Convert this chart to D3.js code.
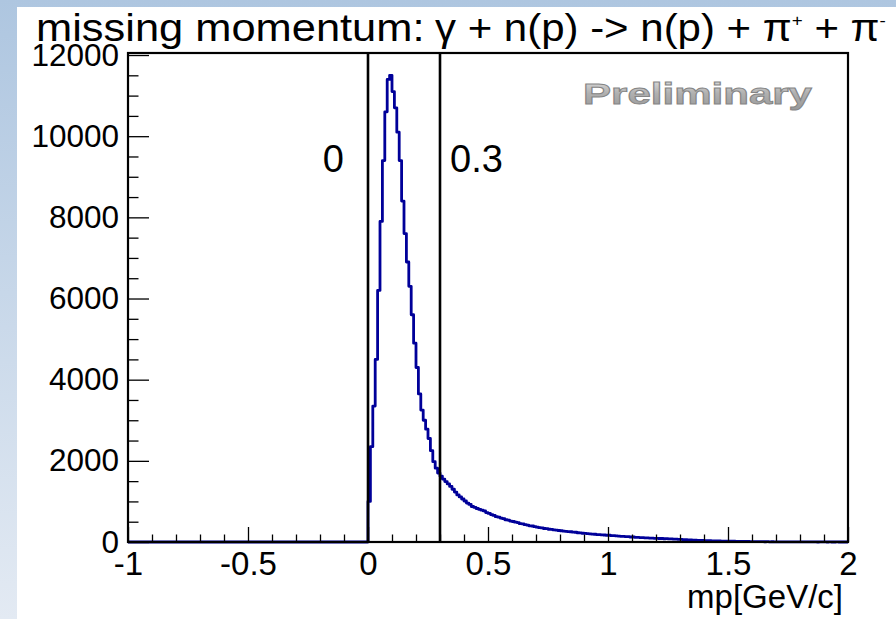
<!DOCTYPE html>
<html>
<head>
<meta charset="utf-8">
<script src="https://cdn.jsdelivr.net/npm/d3@7"></script>
<style>
  html, body { margin: 0; padding: 0; background: #fff; }
  svg { display: block; }
  text { font-family: "Liberation Sans", Arial, sans-serif; fill: #000; }
</style>
</head>
<body>
<svg id="chart" width="896" height="619"></svg>
<script>
// ── Data ─────────────────────────────────────────────────────────
const xDomain   = [-1, 2];
const yDomain   = [0, 12050];
const binStart  = 0;
const binWidth  = 0.01;
// counts per 0.01 GeV/c bin, from 0 up to 2 (below 0 everything is empty)
const counts = [
  1000, 2350, 3350, 4500, 6200, 7900, 9400, 10600, 11400, 11500,
  11100, 10700, 10100, 9400, 8400, 7600, 6900, 6300, 5600, 4900,
  4300, 3650, 3250, 3000, 2780, 2550, 2250, 1980, 1820, 1700,
  1620, 1550, 1490, 1430, 1370, 1300, 1230, 1160, 1110, 1060,
  1010, 960, 925, 875, 855, 825, 805, 785, 765, 725,
  705, 676, 655, 625, 612, 590, 574, 548, 538, 515,
  505, 488, 478, 452, 447, 428, 418, 398, 394, 378,
  366, 352, 348, 333, 331, 314, 312, 298, 292, 283,
  277, 268, 264, 255, 252, 243, 240, 228, 226, 216,
  213, 204, 201, 194, 191, 184, 181, 174, 173, 166,
  166, 158, 156, 149, 147, 140, 139, 132, 131, 123,
  123, 116, 116, 110, 109, 103, 103, 96, 96, 90,
  91, 86, 86, 80, 81, 76, 76, 70, 69, 63,
  63, 57, 56, 51, 51, 46, 45, 41, 41, 37,
  36, 32, 32, 29, 29, 25, 26, 23, 23, 20,
  21, 18, 19, 16, 17, 14, 15, 12, 13, 10,
  11, 8, 10, 7, 8, 6, 7, 5, 6, 4,
  5, 3, 5, 2, 4, 2, 3, 2, 3, 1,
  2, 1, 2, 1, 1, 1, 1, 0, 1, 1,
  1, 0, 1, 0, 0, 1, 0, 0, 0, 0
];
const xMajorTicks = [-1, -0.5, 0, 0.5, 1, 1.5, 2];
const xTickLabels = ["-1", "-0.5", "0", "0.5", "1", "1.5", "2"];
const yMajorTicks = [0, 2000, 4000, 6000, 8000, 10000, 12000];
const cutValues   = [0, 0.3];
const cutLabels   = ["0", "0.3"];

// ── Layout ───────────────────────────────────────────────────────
const W = 896, H = 619;
const frame = { left: 128, right: 848, top: 53, bottom: 542 };

const svg = d3.select("#chart");
const defs = svg.append("defs");

const bgGrad = defs.append("linearGradient")
  .attr("id", "bg-grad").attr("x1", 0).attr("y1", 0).attr("x2", 0).attr("y2", 1);
bgGrad.append("stop").attr("offset", "0%").attr("stop-color", "#aec6e0");
bgGrad.append("stop").attr("offset", "100%").attr("stop-color", "#e3eaf3");

const prelimGrad = defs.append("linearGradient")
  .attr("id", "prelim-grad").attr("x1", 0).attr("y1", 0).attr("x2", 0).attr("y2", 1);
prelimGrad.append("stop").attr("offset", "0%").attr("stop-color", "#e4e4e4");
prelimGrad.append("stop").attr("offset", "50%").attr("stop-color", "#b0b0b0");
prelimGrad.append("stop").attr("offset", "100%").attr("stop-color", "#989898");

// slide background + white picture
svg.append("rect").attr("width", W).attr("height", H).attr("fill", "url(#bg-grad)");
svg.append("rect").attr("x", 17).attr("y", 7).attr("width", W - 17).attr("height", H - 7)
  .attr("fill", "#fff");

// ── Scales ───────────────────────────────────────────────────────
const x = d3.scaleLinear().domain(xDomain).range([frame.left, frame.right]);
const y = d3.scaleLinear().domain(yDomain).range([frame.bottom, frame.top]);

// ── Histogram ────────────────────────────────────────────────────
let d = `M${x(xDomain[0])},${y(0)} H${x(binStart)}`;
counts.forEach((c, i) => {
  d += ` V${y(c)} H${x(binStart + (i + 1) * binWidth)}`;
});
svg.append("path")
  .attr("d", d)
  .attr("fill", "none")
  .attr("stroke", "#000099")
  .attr("stroke-width", 2.8)
  .attr("stroke-linejoin", "round");

// ── Cut lines ────────────────────────────────────────────────────
svg.selectAll(".cut").data(cutValues).enter()
  .append("line")
  .attr("class", "cut")
  .attr("x1", v => x(v)).attr("x2", v => x(v))
  .attr("y1", frame.top).attr("y2", frame.bottom)
  .attr("stroke", "#000").attr("stroke-width", 2.6);

// ── Axes ─────────────────────────────────────────────────────────
const xMinor = d3.range(-10, 21).map(i => i / 10).filter(v => Math.abs(v * 2 - Math.round(v * 2)) > 1e-6);
const yMinor = d3.range(0, 12001, 500).filter(v => v % 2000 !== 0);

const gx = svg.append("g").attr("transform", `translate(0,${frame.bottom})`);
gx.call(d3.axisBottom(x).tickValues(xMinor).tickSize(-7.5).tickFormat(""));
gx.call(g => g.select(".domain").remove());
const gxMaj = svg.append("g").attr("transform", `translate(0,${frame.bottom})`)
  .call(d3.axisBottom(x).tickValues(xMajorTicks).tickSize(-15).tickPadding(10)
    .tickFormat((v, i) => xTickLabels[i]));
gxMaj.select(".domain").remove();
gxMaj.selectAll("text").attr("font-size", 33).attr("font-family", null);

const gy = svg.append("g").attr("transform", `translate(${frame.left},0)`);
gy.call(d3.axisLeft(y).tickValues(yMinor).tickSize(-10.5).tickFormat(""));
gy.call(g => g.select(".domain").remove());
const gyMaj = svg.append("g").attr("transform", `translate(${frame.left},0)`)
  .call(d3.axisLeft(y).tickValues(yMajorTicks).tickSize(-21).tickPadding(9)
    .tickFormat(d3.format("d")));
gyMaj.select(".domain").remove();
gyMaj.selectAll("text").attr("font-size", 31.5).attr("font-family", null);

svg.selectAll(".tick line").attr("stroke", "#000").attr("stroke-width", 1.3);

// frame
svg.append("rect")
  .attr("x", frame.left).attr("y", frame.top)
  .attr("width", frame.right - frame.left).attr("height", frame.bottom - frame.top)
  .attr("fill", "none").attr("stroke", "#000").attr("stroke-width", 2.2);

// axis title
svg.append("text")
  .attr("x", 843).attr("y", 608)
  .attr("text-anchor", "end")
  .attr("font-size", 33)
  .text("mp[GeV/c]");

// ── Title ────────────────────────────────────────────────────────
svg.append("text")
  .attr("font-size", 38)
  .attr("transform", "translate(36,41) scale(1.143,1)")
  .text("missing momentum:");

const title = svg.append("text")
  .attr("font-size", 38)
  .attr("transform", "translate(435,41) scale(1.105,1)");
title.append("tspan").text("\u03b3 + n(p) -> n(p) + \u03c0");
title.append("tspan").attr("dy", -15).attr("font-size", 17).text("+");
title.append("tspan").attr("dy", 15).text(" + \u03c0");
title.append("tspan").attr("dy", -15).attr("font-size", 17).text("-");

// ── Annotations ──────────────────────────────────────────────────
svg.selectAll(".cut-label").data(cutValues).enter()
  .append("text")
  .attr("class", "cut-label")
  .attr("x", (v, i) => i === 0 ? x(v) - 24 : x(v) + 10)
  .attr("y", 172)
  .attr("text-anchor", (v, i) => i === 0 ? "end" : "start")
  .attr("font-family", "'Open Sans', sans-serif")
  .attr("font-size", 38)
  .text((v, i) => cutLabels[i]);

svg.append("text")
  .attr("x", 583).attr("y", 104)
  .attr("font-family", "'Open Sans', sans-serif")
  .attr("font-weight", "bold")
  .attr("font-size", 30)
  .attr("textLength", 229)
  .attr("lengthAdjust", "spacingAndGlyphs")
  .style("fill", "url(#prelim-grad)")
  .style("stroke", "#858585")
  .style("stroke-width", 0.9)
  .text("Preliminary");
</script>
</body>
</html>
